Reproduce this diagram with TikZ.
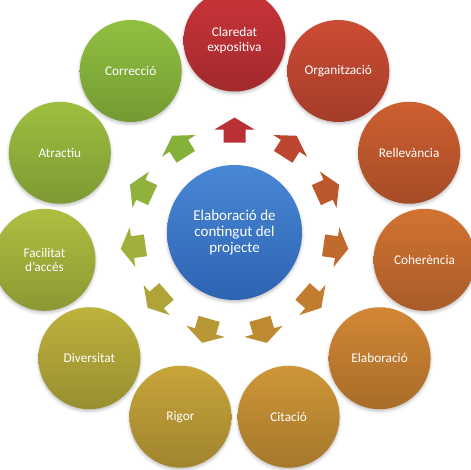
\documentclass[tikz,border=0pt]{standalone}
\usepackage{fontspec}
\setmainfont{Carlito}
\usetikzlibrary{shadows.blur}
\definecolor{c0}{RGB}{202,52,56}
\definecolor{c1}{RGB}{204,76,52}
\definecolor{c2}{RGB}{206,95,48}
\definecolor{c3}{RGB}{210,115,50}
\definecolor{c4}{RGB}{210,135,52}
\definecolor{c5}{RGB}{206,150,55}
\definecolor{c6}{RGB}{200,165,58}
\definecolor{c7}{RGB}{190,178,60}
\definecolor{c8}{RGB}{175,190,64}
\definecolor{c9}{RGB}{157,192,64}
\definecolor{c10}{RGB}{145,192,64}
\definecolor{bluetop}{RGB}{72,135,212}
\definecolor{bluebot}{RGB}{45,100,178}
\begin{document}
\begin{tikzpicture}[x=1pt,y=1pt,
  ball/.style={circle, inner sep=0pt, text=white, align=center,
    blur shadow={shadow xshift=0pt, shadow yshift=-2pt, shadow blur radius=3pt, shadow opacity=25}},
  outer/.style={ball, minimum size=102pt, font=\fontsize{13.3}{14.5}\selectfont},
  hub/.style={ball, minimum size=135pt, font=\fontsize{15}{16.2}\selectfont,
    top color=bluetop, bottom color=bluebot}]
\useasboundingbox (0,0) rectangle (471,-469);
\clip (0,0) rectangle (471,-469);
\coordinate (O) at (234.5,-232.5);
\foreach \k in {0,...,10}{
  \pgfmathsetmacro\ang{90-\k*360/11}
  \coordinate (a\k) at ([shift={(\ang:102)}]O);
  \begin{scope}[shift={(a\k)}, rotate=\ang]
    \fill[c\k!92!black] (-12,-11) -- (1,-11) -- (1,-20) -- (13,0) -- (1,20) -- (1,11) -- (-12,11) -- cycle;
  \end{scope}
}
\node[hub] (C) at (O) {Elaboració de\\contingut del\\projecte};
\foreach \k/\txt in {0/{Claredat\\expositiva},1/Organització,2/Rellevància,3/Coherència,4/Elaboració,5/Citació,6/Rigor,7/Diversitat,8/{Facilitat\\d'accés},9/Atractiu,10/Correcció}{
  \pgfmathsetmacro\ang{90-\k*360/11}
  \node[outer, top color=c\k, bottom color=c\k!80!black] (o\k) at ([shift={(\ang:192)}]O) {\txt};
}
\end{tikzpicture}
\end{document}
